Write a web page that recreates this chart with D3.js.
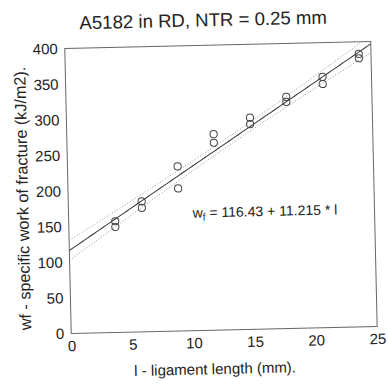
<!DOCTYPE html>
<html><head><meta charset="utf-8">
<script src="https://cdn.jsdelivr.net/npm/d3@7"></script>
<style>body{margin:0;background:#fff}svg{display:block}text{font-family:"Liberation Sans",Arial,sans-serif;fill:#222}</style>
</head><body>
<svg id="c" width="388" height="385"></svg>
<script>
const titleText = "A5182 in RD, NTR = 0.25 mm";
const xLabel = "l - ligament length (mm).";
const yLabel = "wf - specific work of fracture (kJ/m2).";
const ligament = [3.8,3.8, 6,6, 9,9, 12,12, 15,15, 18,18, 21,21, 24,24];
const workFracture = [156,148, 183,174, 231,200, 275,263, 297,288, 325,318, 352,342, 383,377];
const xTicks = [0,5,10,15,20,25];
const yTicks = [0,50,100,150,200,250,300,350,400];
const fitCoef = [116.43, 11.215];
const tValue = [2.145];

const W=388,H=385, L=68,R=374,T=45,B=330;
const svg=d3.select("#c");
const g=svg.append("g").attr("transform","rotate(-1.3,221,189)");
const x=d3.scaleLinear().domain([0,25]).range([L,R]);
const y=d3.scaleLinear().domain([0,400]).range([B,T]);

g.append("defs").append("clipPath").attr("id","clip").append("rect")
 .attr("x",L).attr("y",T).attr("width",R-L).attr("height",B-T);

// frame
g.append("rect").attr("x",L).attr("y",T).attr("width",R-L).attr("height",B-T)
 .attr("fill","none").attr("stroke","#666").attr("stroke-width",1);

// axes (labels only)
const xa=g.append("g").attr("transform",`translate(0,${B})`).call(d3.axisBottom(x).tickValues(xTicks).tickSize(0).tickPadding(7));
const ya=g.append("g").attr("transform",`translate(${L},0)`).call(d3.axisLeft(y).tickValues(yTicks).tickSize(0).tickPadding(7));
[xa,ya].forEach(a=>{a.select(".domain").remove();a.selectAll("text").attr("font-size",15).attr("font-family","Liberation Sans, Arial, sans-serif").attr("fill","#2a2a2a");});

// regression + confidence band computed from data
const n=ligament.length, xbar=d3.mean(ligament);
const Sxx=d3.sum(ligament,v=>(v-xbar)**2);
const f=v=>fitCoef[0]+fitCoef[1]*v;
const s=Math.sqrt(d3.sum(ligament,(v,i)=>(workFracture[i]-f(v))**2)/(n-2));
const xs=d3.range(0,25.01,0.25);
const band=v=>tValue[0]*s*Math.sqrt(1/n+(v-xbar)**2/Sxx);
const line=d3.line().x(d=>x(d[0])).y(d=>y(d[1]));
const cg=g.append("g").attr("clip-path","url(#clip)");
cg.append("path").attr("d",line(xs.map(v=>[v,f(v)]))).attr("fill","none").attr("stroke","#333").attr("stroke-width",1);
[1,-1].forEach(sg=>cg.append("path").attr("d",line(xs.map(v=>[v,f(v)+sg*band(v)])))
 .attr("fill","none").attr("stroke","#888").attr("stroke-width",0.9).attr("stroke-dasharray","1,2"));

// points
g.append("g").selectAll("circle").data(ligament).join("circle")
 .attr("cx",d=>x(d)).attr("cy",(d,i)=>y(workFracture[i])).attr("r",3.6)
 .attr("fill","none").attr("stroke","#444").attr("stroke-width",1);

// equation
const eq=g.append("text").attr("x",192).attr("y",217).attr("font-size",14);
eq.append("tspan").text("w");
eq.append("tspan").attr("font-size",10).attr("dy",3).text("f");
eq.append("tspan").attr("dy",-3).text(` = ${fitCoef[0]} + ${fitCoef[1]} * l`);

// titles
g.append("text").attr("x",207).attr("y",26).attr("text-anchor","middle").attr("font-size",18.6).text(titleText);
g.append("text").attr("x",211).attr("y",374).attr("text-anchor","middle").attr("font-size",15).text(xLabel);
g.append("text").attr("transform","translate(28,194) rotate(-90)").attr("text-anchor","middle").attr("font-size",16.2).text(yLabel);
</script>
</body></html>
